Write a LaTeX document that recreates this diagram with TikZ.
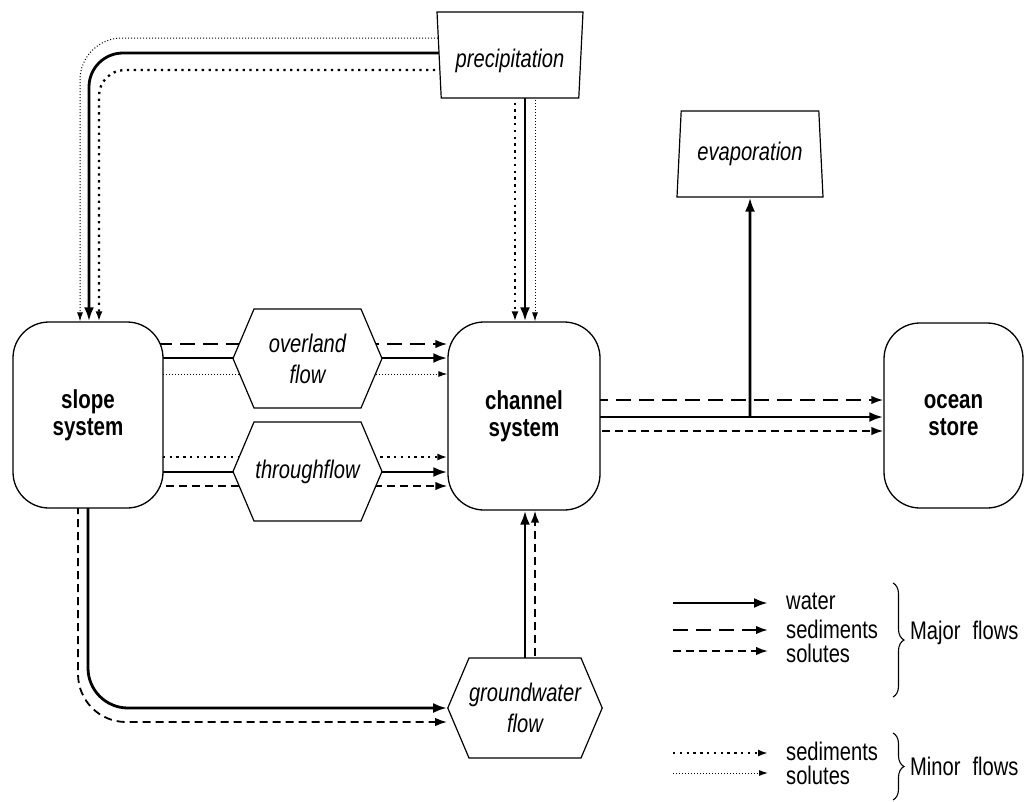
\documentclass[tikz,border=0pt]{standalone}
\usepackage{fontspec}
\setmainfont{Liberation Sans}[FakeStretch=0.79]
\usetikzlibrary{arrows.meta,shapes.geometric,shapes.symbols,backgrounds,decorations.pathreplacing}
\begin{document}
\begin{tikzpicture}[x=1pt,y=-1pt,
 box/.style={draw, line width=1.3pt, rounded corners=36pt, fill=white, align=center,
   font=\bfseries\fontsize{26}{27}\selectfont, minimum width=150pt, minimum height=186pt},
 hexa/.style={signal, signal to=west and east, draw, line width=1.2pt, fill=white, align=center,
   font=\itshape\fontsize{25.5}{31}\selectfont, minimum width=149pt, minimum height=99pt,
   signal pointer angle=134, inner sep=0pt},
 trap/.style={trapezium, draw, line width=1.2pt, fill=white, trapezium left angle=80,
   trapezium right angle=80, trapezium stretches body, minimum width=146pt, minimum height=86pt,
   font=\itshape\fontsize{25.5}{29}\selectfont, inner sep=0pt},
 legtext/.style={anchor=west, font=\fontsize{25.5}{28}\selectfont, inner sep=0pt},
 water/.style={line width=2.8pt, -{Latex[length=14pt,width=10pt]}},
 sedmaj/.style={line width=2pt, dash pattern=on 15pt off 8pt, -{Latex[length=12pt,width=8.5pt]}},
 solmaj/.style={line width=1.8pt, dash pattern=on 8pt off 5pt, -{Latex[length=12pt,width=8.5pt]}},
 sedmin/.style={line width=2.3pt, dash pattern=on 2.3pt off 4.5pt, -{Latex[length=10pt,width=7pt]}},
 solmin/.style={line width=1pt, dash pattern=on 1pt off 2pt, -{Latex[length=9pt,width=6pt]}},
 bracestyle/.style={decorate, decoration={brace, amplitude=11pt}, line width=1.1pt}
]
\useasboundingbox (0,0) rectangle (1025,801);

% nodes
\node[box] (slope) at (88,415) {slope\\system};
\node[box, minimum width=152pt, minimum height=188pt] (channel) at (524,416) {channel\\system};
\node[box, minimum width=139pt, minimum height=185pt] (ocean) at (953.5,415.5) {ocean\\store};
\node[hexa] (over) at (307.5,358.5) {overland\\flow};
\node[hexa] (through) at (307.5,471.5) {throughflow};
\node[hexa, minimum width=150pt, minimum height=100pt] (gw) at (525,708) {groundwater\\flow};
\node[trap, shape border rotate=180, text height=24pt, text depth=0pt] (precip) at (510,55) {precipitation};
\node[trap] (evap) at (750,154) {evaporation};

\begin{scope}[on background layer]
% precipitation to slope
\draw[solmin, rounded corners=42pt] (precip.center |- 0,38) -| (slope.north -| 80,0);
\draw[water, rounded corners=34pt] (precip.center |- 0,53) -| (slope.north -| 89,0);
\draw[sedmin, rounded corners=26pt] (precip.center |- 0,70) -| (slope.north -| 99,0);
% precipitation to channel
\draw[sedmin] (precip.center -| 515,0) -- (channel.north -| 515,0);
\draw[water] (precip.center -| 525,0) -- (channel.north -| 525,0);
\draw[solmin] (precip.center -| 535,0) -- (channel.north -| 535,0);
% overland flow
\draw[sedmaj] (slope.center |- 0,344) -- (channel.west |- 0,344);
\draw[water] (slope.center |- 0,358) -- (channel.west |- 0,358);
\draw[solmin] (slope.center |- 0,374) -- (channel.west |- 0,374);
% throughflow
\draw[sedmin] (slope.center |- 0,457) -- (channel.west |- 0,457);
\draw[water] (slope.center |- 0,472) -- (channel.west |- 0,472);
\draw[solmaj] (slope.center |- 0,486) -- (channel.west |- 0,486);
% channel to ocean
\draw[sedmaj] (channel.center |- 0,400) -- (ocean.west |- 0,400);
\draw[water] (channel.center |- 0,417) -- (ocean.west |- 0,417);
\draw[solmaj] (channel.center |- 0,431) -- (ocean.west |- 0,431);
\coordinate (junc) at (750,417);
\draw[water] (junc) -- (evap.south);
% slope to groundwater
\draw[water, rounded corners=40pt] (slope.center) |- (gw.west);
\draw[solmaj, rounded corners=48pt] (slope.center -| 78,0) |- (gw.west |- 0,722);
% groundwater to channel
\draw[water] (gw.center) -- (channel.south -| gw.center);
\draw[solmaj] (gw.center -| 535,0) -- (channel.south -| 535,0);
\end{scope}

% legend
\coordinate (l1a) at (673,603); \coordinate (l1b) at (768,603);
\coordinate (l2a) at (673,630); \coordinate (l2b) at (768,630);
\coordinate (l3a) at (673,651); \coordinate (l3b) at (768,651);
\coordinate (l4a) at (673,753); \coordinate (l4b) at (768,753);
\coordinate (l5a) at (673,773); \coordinate (l5b) at (768,773);
\draw[water] (l1a) -- (l1b);
\draw[sedmaj] (l2a) -- (l2b);
\draw[solmaj] (l3a) -- (l3b);
\draw[sedmin] (l4a) -- (l4b);
\draw[solmin] (l5a) -- (l5b);
\node[legtext] (t1) at (786,601) {water};
\node[legtext] (t2) at (786,629) {sediments};
\node[legtext] (t3) at (786,653) {solutes};
\node[legtext] (t4) at (786,751) {sediments};
\node[legtext] (t5) at (786,775) {solutes};
\coordinate (b1a) at (893,583); \coordinate (b1b) at (893,697);
\coordinate (b2a) at (893,733); \coordinate (b2b) at (893,800);
\draw[bracestyle] (b1a) -- (b1b);
\draw[bracestyle] (b2a) -- (b2b);
\node[legtext] (major) at (910,633) {Major\hspace{12pt}flows};
\node[legtext] (minor) at (910,766) {Minor\hspace{12pt}flows};
\end{tikzpicture}
\end{document}
